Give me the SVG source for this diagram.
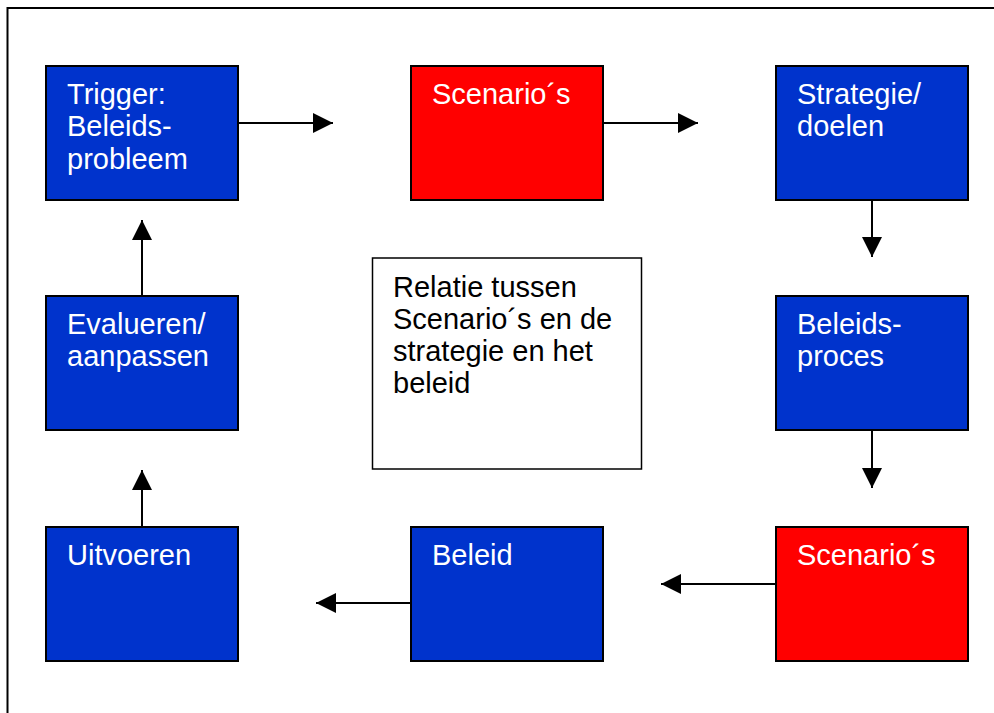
<svg xmlns="http://www.w3.org/2000/svg" width="994" height="713" viewBox="0 0 994 713">
<style>
.blue{fill:#0033CC;stroke:#000;stroke-width:2}
.red{fill:#FF0000;stroke:#000;stroke-width:2}
.white{fill:#fff;stroke:#000;stroke-width:1.5}
.lbl{font-family:"Liberation Sans",Arial,sans-serif;font-size:29px;fill:#fff}
.dark{fill:#000}
.conn{stroke:#000;stroke-width:2;fill:none;marker-end:url(#ah)}
</style>
<defs>
<marker id="ah" viewBox="0 0 20 20" refX="20" refY="10" markerWidth="20" markerHeight="20" markerUnits="userSpaceOnUse" orient="auto">
<path d="M0,0 L20,10 L0,20 Z" fill="#000"/>
</marker>
</defs>
<rect width="994" height="713" fill="#fff"/>
<path d="M7.5,713 V8 H994" fill="none" stroke="#000" stroke-width="2"/>
<g id="trigger">
<rect class="blue" x="46" y="66" width="192" height="134"/>
<text class="lbl" x="67" y="104">Trigger:<tspan x="67" dy="32.3">Beleids-</tspan><tspan x="67" dy="32.3">probleem</tspan></text>
</g>
<g id="scenarios1">
<rect class="red" x="411" y="66" width="192" height="134"/>
<text class="lbl" x="432" y="104">Scenario´s</text>
</g>
<g id="strategie">
<rect class="blue" x="776" y="66" width="192" height="134"/>
<text class="lbl" x="797" y="104">Strategie/<tspan x="797" dy="32.3">doelen</tspan></text>
</g>
<g id="evalueren">
<rect class="blue" x="46" y="296" width="192" height="134"/>
<text class="lbl" x="67" y="334">Evalueren/<tspan x="67" dy="32.3">aanpassen</tspan></text>
</g>
<g id="relatie">
<rect class="white" x="372.5" y="258" width="269" height="211"/>
<text class="lbl dark" x="393" y="296.5">Relatie tussen<tspan x="393" dy="32.3">Scenario´s en de</tspan><tspan x="393" dy="32.3">strategie en het</tspan><tspan x="393" dy="32.3">beleid</tspan></text>
</g>
<g id="beleidsproces">
<rect class="blue" x="776" y="296" width="192" height="134"/>
<text class="lbl" x="797" y="334">Beleids-<tspan x="797" dy="32.3">proces</tspan></text>
</g>
<g id="uitvoeren">
<rect class="blue" x="46" y="527" width="192" height="134"/>
<text class="lbl" x="67" y="565">Uitvoeren</text>
</g>
<g id="beleid">
<rect class="blue" x="411" y="527" width="192" height="134"/>
<text class="lbl" x="432" y="565">Beleid</text>
</g>
<g id="scenarios2">
<rect class="red" x="776" y="527" width="192" height="134"/>
<text class="lbl" x="797" y="565">Scenario´s</text>
</g>
<g id="connectors">
<line class="conn" x1="239" y1="123" x2="333" y2="123"/>
<line class="conn" x1="604" y1="123" x2="698" y2="123"/>
<line class="conn" x1="872" y1="201" x2="872" y2="257"/>
<line class="conn" x1="872" y1="431" x2="872" y2="488"/>
<line class="conn" x1="775" y1="584" x2="661" y2="584"/>
<line class="conn" x1="410" y1="603" x2="316" y2="603"/>
<line class="conn" x1="142" y1="526" x2="142" y2="470"/>
<line class="conn" x1="142" y1="295" x2="142" y2="220"/>
</g>
</svg>
